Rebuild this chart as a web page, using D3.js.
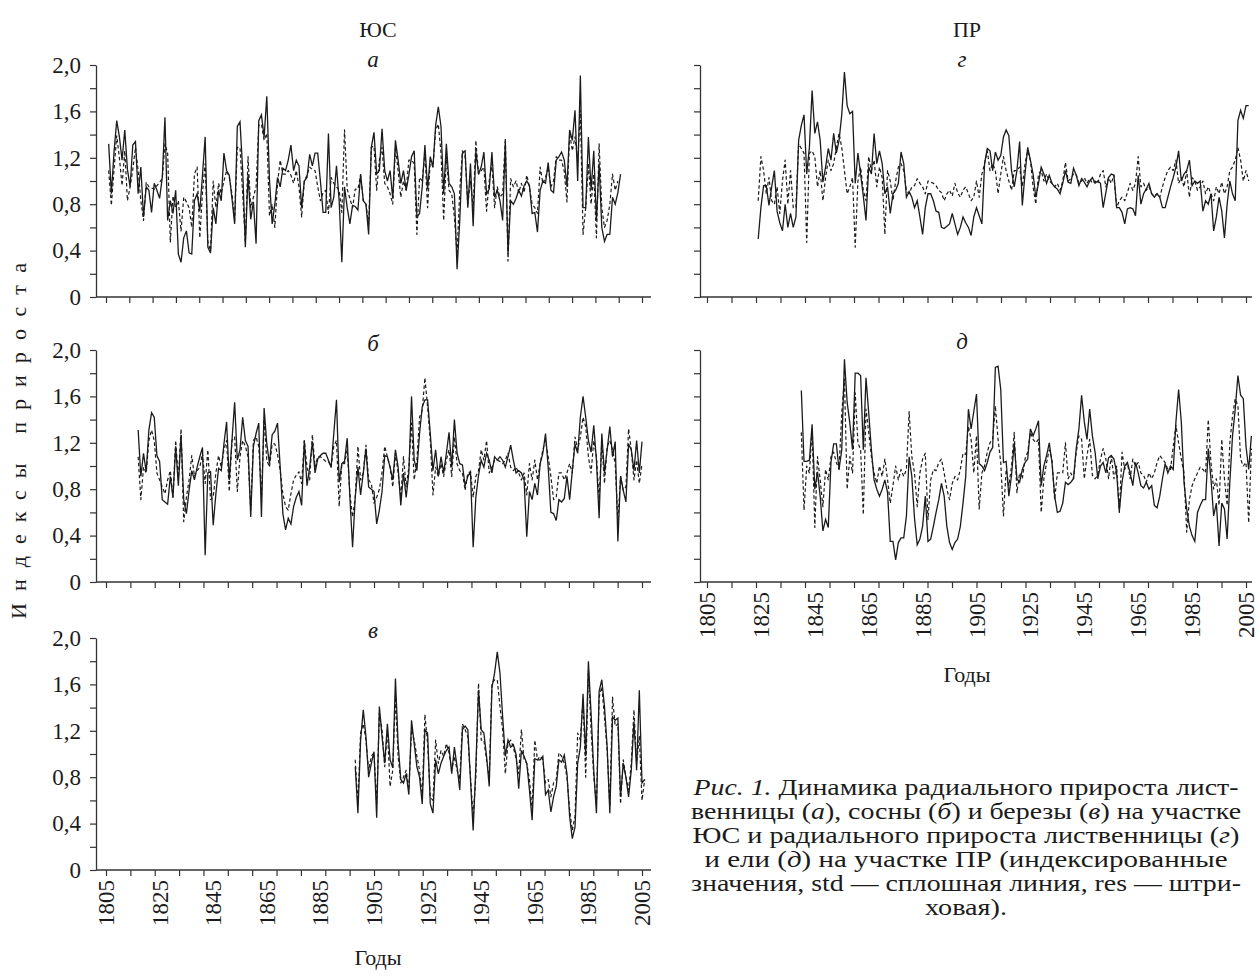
<!DOCTYPE html>
<html><head><meta charset="utf-8">
<script src="https://cdn.jsdelivr.net/npm/d3@7"></script>
<style>body{margin:0;background:#fff}</style>
</head><body>
<svg id="chart" width="1258" height="977" xmlns="http://www.w3.org/2000/svg"></svg>
<script>
// ---------------- DATA ----------------
const yearLabels = [1805,1825,1845,1865,1885,1905,1925,1945,1965,1985,2005];
const yTickValues = [0,0.4,0.8,1.2,1.6,2.0];
const yTickLabels = ["0","0,4","0,8","1,2","1,6","2,0"];

// а — лиственница, ЮС
const a_stdStart = 1806;
const a_std = [1.32,0.89,1.25,1.52,1.38,1.18,1.44,1.10,0.95,1.31,
1.34,0.89,1.12,0.69,0.95,0.92,0.73,0.98,0.92,0.85,
1.03,1.55,0.66,0.83,0.72,0.92,0.37,0.30,0.51,0.57,
0.38,0.37,0.83,0.89,0.74,1.05,1.38,0.43,0.38,0.77,
0.63,0.92,0.83,1.24,1.09,1.05,0.85,0.63,1.47,1.51,
1.09,0.43,1.06,0.67,0.82,0.46,1.52,1.57,1.38,1.73,
1.01,0.63,0.80,1.03,0.95,1.11,1.09,1.18,1.31,1.09,
1.18,1.13,0.77,1.00,1.03,1.23,1.13,1.24,1.24,1.00,
0.73,0.73,1.41,0.77,0.86,1.13,0.83,0.30,0.95,0.77,
0.63,0.79,0.78,0.75,1.06,0.83,0.80,0.54,1.29,1.42,
1.06,1.09,1.45,1.09,1.00,1.09,0.85,1.35,1.18,0.98,
1.09,0.92,1.05,1.21,1.26,0.69,0.72,0.95,1.31,0.93,
1.21,1.12,1.48,1.64,1.47,0.89,1.32,0.98,0.95,0.89,
0.24,0.66,1.24,1.26,0.77,1.15,0.61,1.26,1.06,1.12,
1.25,0.89,0.93,1.25,0.86,0.92,0.83,0.66,1.34,0.37,
0.83,0.80,0.85,0.92,0.87,0.96,1.00,0.96,0.72,0.73,
0.56,0.92,1.00,0.98,1.16,0.92,0.90,1.18,1.21,1.25,
1.18,0.95,1.44,1.35,1.61,1.00,1.91,0.77,0.77,1.38,
0.92,1.26,0.66,1.15,0.60,0.48,0.54,0.54,0.86,0.80,
0.90,1.06];
const a_resStart = 1806;
const a_res = [1.09,0.79,1.10,1.39,1.20,0.96,1.26,0.83,0.95,1.10,
1.29,1.09,0.83,0.66,0.99,0.95,0.94,0.93,0.96,0.99,
1.02,1.32,1.24,0.47,0.87,0.77,0.83,0.57,0.86,0.82,
0.77,0.60,1.06,1.12,0.51,0.90,1.15,0.48,0.40,1.00,
0.77,0.98,0.89,1.00,1.09,1.03,0.89,0.66,1.29,1.29,
0.89,0.47,1.21,0.77,0.86,0.95,1.48,1.49,1.35,1.41,
0.70,0.80,0.60,0.98,1.18,1.06,1.06,1.09,1.05,0.98,
1.09,0.95,0.69,1.00,1.05,1.12,1.10,1.09,0.95,0.83,
0.90,0.92,0.72,1.03,0.98,0.95,0.92,0.73,1.44,0.93,
0.85,0.77,0.93,0.93,1.05,0.83,0.80,0.63,1.29,1.30,
0.92,1.18,1.29,0.98,0.95,0.89,0.80,1.29,1.09,0.86,
1.00,0.92,1.18,1.18,1.15,0.54,1.03,1.00,1.24,0.77,
1.18,1.12,1.44,1.49,1.24,0.66,1.21,0.92,0.89,0.69,
0.37,0.92,1.26,1.21,0.80,1.00,0.77,1.35,1.06,1.09,
1.12,0.74,1.00,1.15,0.77,0.95,0.86,0.89,1.37,0.31,
1.02,0.95,1.00,0.90,0.98,0.90,1.05,0.95,0.80,0.77,
0.72,1.12,0.98,1.03,1.12,0.95,1.00,1.21,1.18,1.18,
1.08,0.82,1.41,1.26,1.38,1.18,1.61,0.54,0.77,1.15,
0.80,1.06,0.51,1.32,0.77,0.60,0.66,0.80,1.06,0.92,
1.00];

// б — сосна, ЮС
const b_stdStart = 1817;
const b_std = [1.31,0.91,1.11,0.95,1.31,1.46,1.42,1.09,1.04,0.71,
0.69,0.67,0.91,0.73,1.17,0.83,1.27,0.71,0.59,0.79,
0.96,0.88,0.99,1.08,1.16,0.23,0.94,0.95,0.49,0.76,
0.98,0.96,1.19,1.38,0.88,1.22,1.55,1.05,1.14,1.42,
1.22,1.17,0.56,1.17,1.28,1.37,0.56,1.50,1.19,1.02,
1.27,1.30,1.37,0.99,0.59,0.45,0.55,0.50,0.65,0.73,
0.78,0.66,1.22,0.83,0.99,1.21,0.94,1.06,1.09,1.11,
1.11,1.05,0.99,1.28,1.57,0.86,1.02,1.04,1.24,0.73,
0.30,0.73,0.99,0.75,0.94,1.15,0.82,0.80,0.78,0.50,
0.62,0.78,1.09,1.08,0.99,0.88,1.14,0.99,0.66,0.94,
0.73,0.94,1.60,1.05,0.96,1.28,1.51,1.57,1.57,1.28,
0.96,1.14,0.91,1.08,0.94,1.11,1.29,0.99,1.40,1.11,
1.02,1.01,0.83,0.91,0.95,0.30,0.73,0.92,1.05,0.99,
1.11,1.05,0.94,1.08,1.05,1.08,1.05,0.99,1.08,1.18,
1.05,0.94,0.96,0.94,0.88,0.39,0.78,0.71,0.85,0.75,
1.02,1.11,1.28,0.99,0.60,0.59,0.53,0.71,0.69,0.72,
0.91,0.71,0.96,1.19,1.11,1.42,1.60,1.42,1.22,1.12,
1.35,1.05,0.55,1.28,0.94,1.14,1.34,1.08,1.21,0.35,
0.91,0.79,0.69,1.19,1.14,0.96,1.22,0.94,1.21];
const b_resStart = 1817;
const b_res = [1.08,0.71,0.99,0.94,1.22,1.31,1.22,0.94,0.88,0.82,
0.76,0.88,0.96,0.73,1.22,0.88,1.32,0.52,0.73,0.88,
1.09,0.91,0.96,0.99,1.11,0.85,1.14,0.71,0.73,0.94,
1.09,0.99,1.14,1.22,0.78,1.22,1.25,0.78,1.08,1.22,
1.17,1.08,0.62,1.22,1.25,1.17,0.73,1.40,1.05,0.99,
1.19,1.19,1.10,0.96,0.76,0.65,0.62,0.76,0.88,0.92,
0.95,0.85,1.22,0.99,0.88,1.27,0.99,1.08,1.08,1.06,
1.04,1.04,0.99,1.17,1.22,0.65,1.02,1.02,1.14,0.76,
0.56,0.73,1.17,0.88,0.94,1.18,0.88,0.85,0.68,0.73,
0.80,0.94,1.17,1.08,0.99,0.82,1.11,0.94,0.73,1.08,
0.82,0.99,1.37,0.88,1.05,1.42,1.48,1.76,1.51,1.22,
0.75,0.99,0.91,1.02,0.91,1.05,1.14,0.91,1.25,1.02,
0.96,0.94,0.79,0.94,0.95,0.73,0.91,0.96,1.14,1.05,
1.22,0.94,0.99,1.05,1.05,1.04,1.02,1.05,1.11,0.99,
0.96,0.99,0.94,0.88,0.94,0.75,1.02,0.88,1.05,0.88,
1.02,1.14,1.22,1.08,0.91,0.71,0.73,0.94,0.94,0.88,
0.94,1.02,0.94,1.25,1.14,1.25,1.42,1.34,1.08,0.94,
1.22,1.08,0.71,1.22,0.85,1.17,1.22,1.14,1.02,0.52,
0.91,0.79,0.82,1.32,1.14,0.88,1.05,0.85,1.02];

// в — береза, ЮС
const v_stdStart = 1898;
const v_std = [0.89,0.49,1.12,1.38,1.15,0.80,0.92,1.02,0.45,1.41,
1.15,0.92,1.26,0.95,0.88,1.65,1.09,0.78,0.75,0.83,
0.65,1.29,1.09,0.89,0.80,0.57,1.21,1.18,0.57,0.49,
0.95,0.83,0.92,0.98,1.03,1.06,0.83,1.06,0.89,0.69,
1.21,1.24,1.21,0.78,0.34,0.89,1.55,1.21,1.18,0.98,
0.72,1.57,1.70,1.88,1.70,1.32,0.98,1.12,1.06,1.08,
1.00,0.70,1.03,0.98,0.92,0.69,0.43,0.96,0.95,0.95,
0.98,0.65,0.69,0.50,0.63,0.72,0.95,0.93,0.99,0.83,
0.46,0.27,0.37,0.92,1.06,1.52,0.98,1.80,1.35,0.86,
0.49,1.54,1.64,1.41,1.06,0.49,1.32,1.29,1.31,0.63,
0.92,0.80,0.63,0.86,1.28,0.86,1.55,0.75,0.78];
const v_resStart = 1898;
const v_res = [0.95,0.57,1.18,1.26,1.12,0.86,0.98,1.01,0.57,1.35,
1.21,0.89,1.21,0.72,0.86,1.49,0.98,0.75,0.80,0.86,
0.69,1.21,1.12,0.98,0.86,0.63,1.34,1.09,0.63,0.60,
1.12,0.92,1.03,0.98,1.09,1.01,0.86,0.98,0.86,0.78,
1.26,1.21,1.15,0.80,0.46,0.80,1.61,1.12,1.12,0.95,
0.80,1.61,1.64,1.64,1.41,1.21,0.83,1.09,1.12,1.06,
0.96,0.83,1.21,0.95,0.92,0.78,0.52,1.12,0.95,0.98,
0.95,0.75,0.78,0.63,0.75,0.78,1.01,0.98,0.92,0.80,
0.52,0.34,0.46,1.18,1.12,1.47,0.80,1.72,1.21,0.80,
0.57,1.49,1.58,1.32,1.03,0.55,1.49,1.24,1.26,0.57,
0.95,0.80,0.69,0.92,1.38,0.92,1.15,0.60,0.78];

// г — лиственница, ПР
const g_stdStart = 1824;
const g_std = [0.50,0.77,0.96,0.96,0.79,0.95,1.09,0.74,0.64,0.57,
0.80,0.60,0.72,0.60,0.69,1.35,1.48,1.57,1.06,1.29,
1.78,1.41,1.51,1.35,0.99,1.12,1.28,1.18,1.41,1.24,
1.35,1.57,1.94,1.65,1.58,1.60,0.98,1.24,1.06,0.87,
0.66,1.12,1.06,1.41,1.15,1.26,1.15,0.89,0.95,0.72,
0.89,0.92,0.98,1.25,1.15,0.86,0.91,0.86,0.77,0.83,
0.69,0.54,0.77,0.89,0.89,0.83,0.74,0.73,0.60,0.59,
0.61,0.63,0.72,0.63,0.54,0.60,0.69,0.64,0.60,0.53,
0.69,0.77,0.70,0.63,1.15,1.28,1.26,1.09,1.25,1.18,
1.22,1.38,1.44,1.39,1.09,0.95,1.09,1.34,0.79,1.06,
1.29,1.18,1.06,0.86,0.98,1.12,1.06,0.98,1.05,0.98,
0.95,0.93,0.89,0.98,1.09,0.99,0.98,1.11,1.05,0.96,
1.02,0.99,0.95,1.00,1.03,0.98,1.00,0.98,0.77,0.90,
1.03,1.06,1.05,0.77,0.77,0.73,0.63,0.76,0.77,0.76,
0.70,1.05,0.80,0.89,0.93,0.98,0.89,0.86,0.89,0.86,
0.77,0.77,0.86,0.95,1.03,1.12,1.26,1.00,1.06,1.09,
1.18,0.96,1.00,0.98,1.00,0.74,0.83,0.80,0.89,0.57,
0.69,0.86,0.74,0.51,0.80,1.00,0.89,0.83,1.52,1.61,
1.54,1.65,1.65];
const g_resStart = 1824;
const g_res = [0.83,1.21,1.09,0.89,1.03,0.83,0.80,0.95,0.72,1.00,
1.18,0.80,1.09,0.77,0.77,1.32,1.28,1.24,0.47,1.24,
1.26,1.21,0.95,1.09,0.83,1.03,1.18,1.09,1.15,1.29,
1.41,1.29,1.09,0.89,0.95,1.03,0.43,1.00,1.12,0.92,
0.83,1.21,1.09,1.18,0.95,1.12,1.03,0.54,1.09,1.00,
0.83,1.00,1.12,1.15,1.09,0.92,0.89,0.95,0.96,1.02,
0.98,0.95,0.89,1.00,0.99,0.98,0.96,0.92,0.90,0.83,
0.89,0.92,0.87,0.98,0.90,0.86,0.92,0.95,0.89,0.83,
0.86,1.00,0.86,1.06,1.15,1.26,1.09,1.15,1.09,0.89,
1.06,1.21,1.09,1.00,0.92,1.09,1.09,1.12,0.95,1.15,
1.26,1.18,0.95,0.80,1.06,1.09,1.00,1.06,1.00,0.98,
0.95,0.98,0.92,1.00,1.16,1.00,1.02,1.06,1.06,0.98,
1.00,1.03,0.98,1.02,0.98,1.00,0.98,1.06,1.09,0.95,
1.03,0.98,1.05,0.77,0.83,0.86,0.83,0.90,0.98,0.92,
0.98,1.21,0.95,0.98,0.92,0.95,0.89,0.87,0.89,0.86,
0.95,1.03,1.09,1.12,1.09,1.18,0.98,1.03,0.95,1.09,
0.86,1.03,1.00,0.92,0.95,1.00,0.89,0.95,0.89,0.83,
0.95,0.89,0.99,0.89,0.95,1.09,1.12,1.18,1.29,1.18,
1.00,1.09,1.00];

// д — ель, ПР
const d_stdStart = 1840;
const d_std = [1.65,1.04,1.04,1.05,1.36,0.80,0.95,0.74,0.44,0.54,
0.47,1.03,1.19,1.19,0.97,1.14,1.92,1.55,1.37,1.14,
1.80,1.80,1.78,1.14,1.76,1.46,1.14,0.88,0.80,0.74,
0.80,0.88,0.77,0.35,0.35,0.19,0.34,0.38,0.38,0.57,
1.08,0.91,0.55,0.32,0.37,0.48,0.74,0.35,0.37,0.48,
0.60,0.71,0.85,0.74,0.48,0.34,0.28,0.34,0.37,0.48,
0.68,0.91,1.49,1.32,1.47,1.62,1.02,1.00,0.96,1.03,
1.12,1.16,1.85,1.86,1.66,1.03,1.04,0.74,0.92,1.20,
0.89,0.86,0.97,1.03,1.06,1.32,1.26,1.32,1.39,0.83,
1.00,1.09,1.20,1.03,0.74,0.60,0.61,0.68,0.86,0.84,
0.86,0.89,1.15,1.32,1.61,1.38,1.23,1.49,1.26,1.12,
0.89,1.00,1.03,0.94,1.07,1.09,1.06,0.94,0.61,0.86,
1.00,1.03,0.94,0.83,1.03,0.94,0.83,0.81,0.86,0.80,
0.83,0.66,0.64,0.74,0.89,1.02,0.94,1.00,0.97,1.38,
1.66,1.38,0.86,0.63,0.48,0.40,0.35,0.60,0.66,0.71,
0.71,1.15,0.89,0.57,0.68,0.31,0.68,0.63,0.37,0.86,
1.26,1.49,1.78,1.61,1.58,1.17,0.97,1.26];
const d_resStart = 1840;
const d_res = [1.29,0.62,1.00,0.94,1.32,0.47,1.08,0.88,0.65,0.97,
0.88,1.08,1.12,1.03,0.97,1.46,1.75,0.80,1.08,0.94,
1.63,1.20,1.14,0.58,1.49,1.29,1.08,0.94,0.85,1.00,
0.91,1.06,0.88,0.68,0.83,1.00,0.88,0.97,0.91,0.97,
1.47,1.08,0.94,0.65,0.94,1.06,1.11,0.54,0.88,0.97,
0.96,1.03,1.06,0.94,0.80,0.71,0.85,0.91,0.88,0.97,
1.11,1.10,1.34,1.23,0.94,1.26,
0.63,0.94,1.00,1.12,1.20,1.23,1.52,1.23,1.03,0.57,
0.97,0.83,1.00,1.29,0.77,0.94,0.89,1.06,1.12,1.29,
1.23,1.20,1.23,0.60,0.89,1.03,1.14,1.06,0.71,0.94,
0.94,0.94,1.20,0.89,0.94,0.89,1.12,1.26,1.23,0.89,
1.09,1.23,0.92,0.89,0.92,1.06,1.15,1.06,0.89,1.09,
0.89,1.00,0.60,1.12,0.97,1.03,0.89,1.06,1.00,1.03,
0.94,0.92,0.86,0.94,0.89,0.94,1.03,1.09,1.06,1.03,
0.97,0.97,1.17,1.35,1.20,1.06,0.94,0.43,0.71,0.83,
0.89,0.94,0.99,0.97,0.94,1.40,1.03,0.80,0.89,0.66,
1.23,0.89,0.66,1.20,1.43,1.58,1.52,1.06,1.00,1.03,
0.51,1.15];

// ---------------- LAYOUT ----------------
const FONT = '"Liberation Serif","Times New Roman",Times,serif';
const INK = '#1b1b1b';
const AXIS = '#333';

const sides = {
  L: {axisX: 96, axisEnd: 651, range: [106, 642], showY: true, title: 'ЮС', cx: 378, xTitleOff: 95},
  R: {axisX: 700, axisEnd: 1252, range: [707, 1246], showY: false, title: 'ПР', cx: 967, xTitleOff: 100}
};
const panels = [
  {letter:'а', side:'L', y0:297, y2:65,  std:a_std, stdStart:a_stdStart, res:a_res, resStart:a_resStart, nTicks:24, years:false, letterY:67},
  {letter:'б', side:'L', y0:582, y2:350, std:b_std, stdStart:b_stdStart, res:b_res, resStart:b_resStart, nTicks:23, years:false, letterY:351},
  {letter:'в', side:'L', y0:870, y2:638, std:v_std, stdStart:v_stdStart, res:v_res, resStart:v_resStart, nTicks:23, years:true, letterY:638},
  {letter:'г', side:'R', y0:297, y2:65,  std:g_std, stdStart:g_stdStart, res:g_res, resStart:g_resStart, nTicks:23, years:false, letterY:67},
  {letter:'д', side:'R', y0:582, y2:350, std:d_std, stdStart:d_stdStart, res:d_res, resStart:d_resStart, nTicks:23, years:true, letterY:349}
];

const svg = d3.select('#chart');
svg.append('rect').attr('width',1258).attr('height',977).attr('fill','#fff');

panels.forEach(p => {
  const s = sides[p.side];
  const x = d3.scaleLinear().domain([1805, 2005]).range(s.range);
  const y = d3.scaleLinear().domain([0, 2]).range([p.y0, p.y2]);
  const g = svg.append('g');

  // y axis
  const minor = d3.range(0, 11).map(i => i * 0.2);
  const yAxis = d3.axisLeft(y).tickValues(minor).tickSize(6).tickSizeOuter(0).tickPadding(9)
    .tickFormat(d => {
      if (!s.showY) return '';
      const k = yTickValues.findIndex(v => Math.abs(v - d) < 1e-6);
      return k >= 0 ? yTickLabels[k] : '';
    });
  const ya = g.append('g').attr('transform', `translate(${s.axisX},0)`).call(yAxis);
  ya.select('.domain').attr('stroke', AXIS).attr('stroke-width', 1.3);
  ya.selectAll('.tick line').attr('stroke', AXIS).attr('stroke-width', 1.2);
  ya.selectAll('.tick text').attr('font-family', FONT).attr('font-size', 23).attr('fill', INK);

  // x axis (line + ticks)
  g.append('line').attr('x1', s.axisX).attr('x2', s.axisEnd).attr('y1', y(0)).attr('y2', y(0))
    .attr('stroke', AXIS).attr('stroke-width', 1.3);
  const tickYears = d3.range(0, p.nTicks).map(i => 1805 + i * 200 / (p.nTicks - 1));
  const xAxis = d3.axisBottom(x).tickValues(tickYears).tickSize(6).tickSizeOuter(0).tickFormat('');
  const xa = g.append('g').attr('transform', `translate(0,${y(0)})`).call(xAxis);
  xa.select('.domain').remove();
  xa.selectAll('.tick line').attr('stroke', AXIS).attr('stroke-width', 1.2);

  if (p.years) {
    g.selectAll('text.yr').data(yearLabels).join('text')
      .attr('class', 'yr')
      .attr('transform', d => `translate(${x(d) + 8},${y(0) + 10}) rotate(-90)`)
      .attr('text-anchor', 'end')
      .attr('font-family', FONT).attr('font-size', 23).attr('fill', INK)
      .text(d => d);
    g.append('text').attr('x', s.cx).attr('y', y(0) + s.xTitleOff)
      .attr('text-anchor', 'middle').attr('font-family', FONT).attr('font-size', 22).attr('fill', INK)
      .text('Годы');
  }

  // lines
  const lineFor = start => d3.line().x((d, i) => x(start + i)).y(d => y(d));
  g.append('path').datum(p.res).attr('d', lineFor(p.resStart))
    .attr('fill', 'none').attr('stroke', INK).attr('stroke-width', 1.2)
    .attr('stroke-dasharray', '3.5,2.5').attr('stroke-linejoin', 'round');
  g.append('path').datum(p.std).attr('d', lineFor(p.stdStart))
    .attr('fill', 'none').attr('stroke', INK).attr('stroke-width', 1.3)
    .attr('stroke-linejoin', 'miter');

  // panel letter
  g.append('text').attr('x', s.cx - 5).attr('y', p.letterY)
    .attr('text-anchor', 'middle').attr('font-family', FONT).attr('font-style', 'italic')
    .attr('font-size', 23).attr('fill', INK).text(p.letter);
});

// column titles
Object.values(sides).forEach(s => {
  svg.append('text').attr('x', s.cx).attr('y', 37).attr('text-anchor', 'middle')
    .attr('font-family', FONT).attr('font-size', 22).attr('fill', INK).text(s.title);
});

// y axis title
svg.append('text').attr('transform', 'translate(26,441) rotate(-90)')
  .attr('text-anchor', 'middle').attr('font-family', FONT).attr('font-size', 22).attr('fill', INK)
  .attr('textLength', 356).attr('lengthAdjust', 'spacing')
  .text('Индексы прироста');

// caption
const captionLines = [
  [['Рис. 1.', true], [' Динамика радиального прироста лист-', false]],
  [['венницы (', false], ['а', true], ['), сосны (', false], ['б', true], [') и березы (', false], ['в', true], [') на участке', false]],
  [['ЮС и радиального прироста лиственницы (', false], ['г', true], [')', false]],
  [['и ели (', false], ['д', true], [') на участке ПР (индексированные', false]],
  [['значения, std — сплошная линия, res — штри-', false]],
  [['ховая).', false]]
];
const captionWidths = [545, 550, 547, 523, 550, null];
const cap = svg.append('g').attr('font-family', FONT).attr('fill', INK);
let stretch = 1;
captionLines.forEach((parts, i) => {
  const t = cap.append('text').attr('x', 966).attr('y', 795 + i * 24)
    .attr('text-anchor', 'middle').attr('font-size', 22.5);
  parts.forEach(([txt, it]) => {
    t.append('tspan').attr('font-style', it ? 'italic' : 'normal').text(txt);
  });
  const natural = t.node().getComputedTextLength();
  if (captionWidths[i]) {
    if (i === 2) stretch = captionWidths[i] / natural;
    t.attr('textLength', captionWidths[i]).attr('lengthAdjust', 'spacingAndGlyphs');
  } else {
    t.attr('textLength', natural * stretch).attr('lengthAdjust', 'spacingAndGlyphs');
  }
});
</script>
</body></html>
